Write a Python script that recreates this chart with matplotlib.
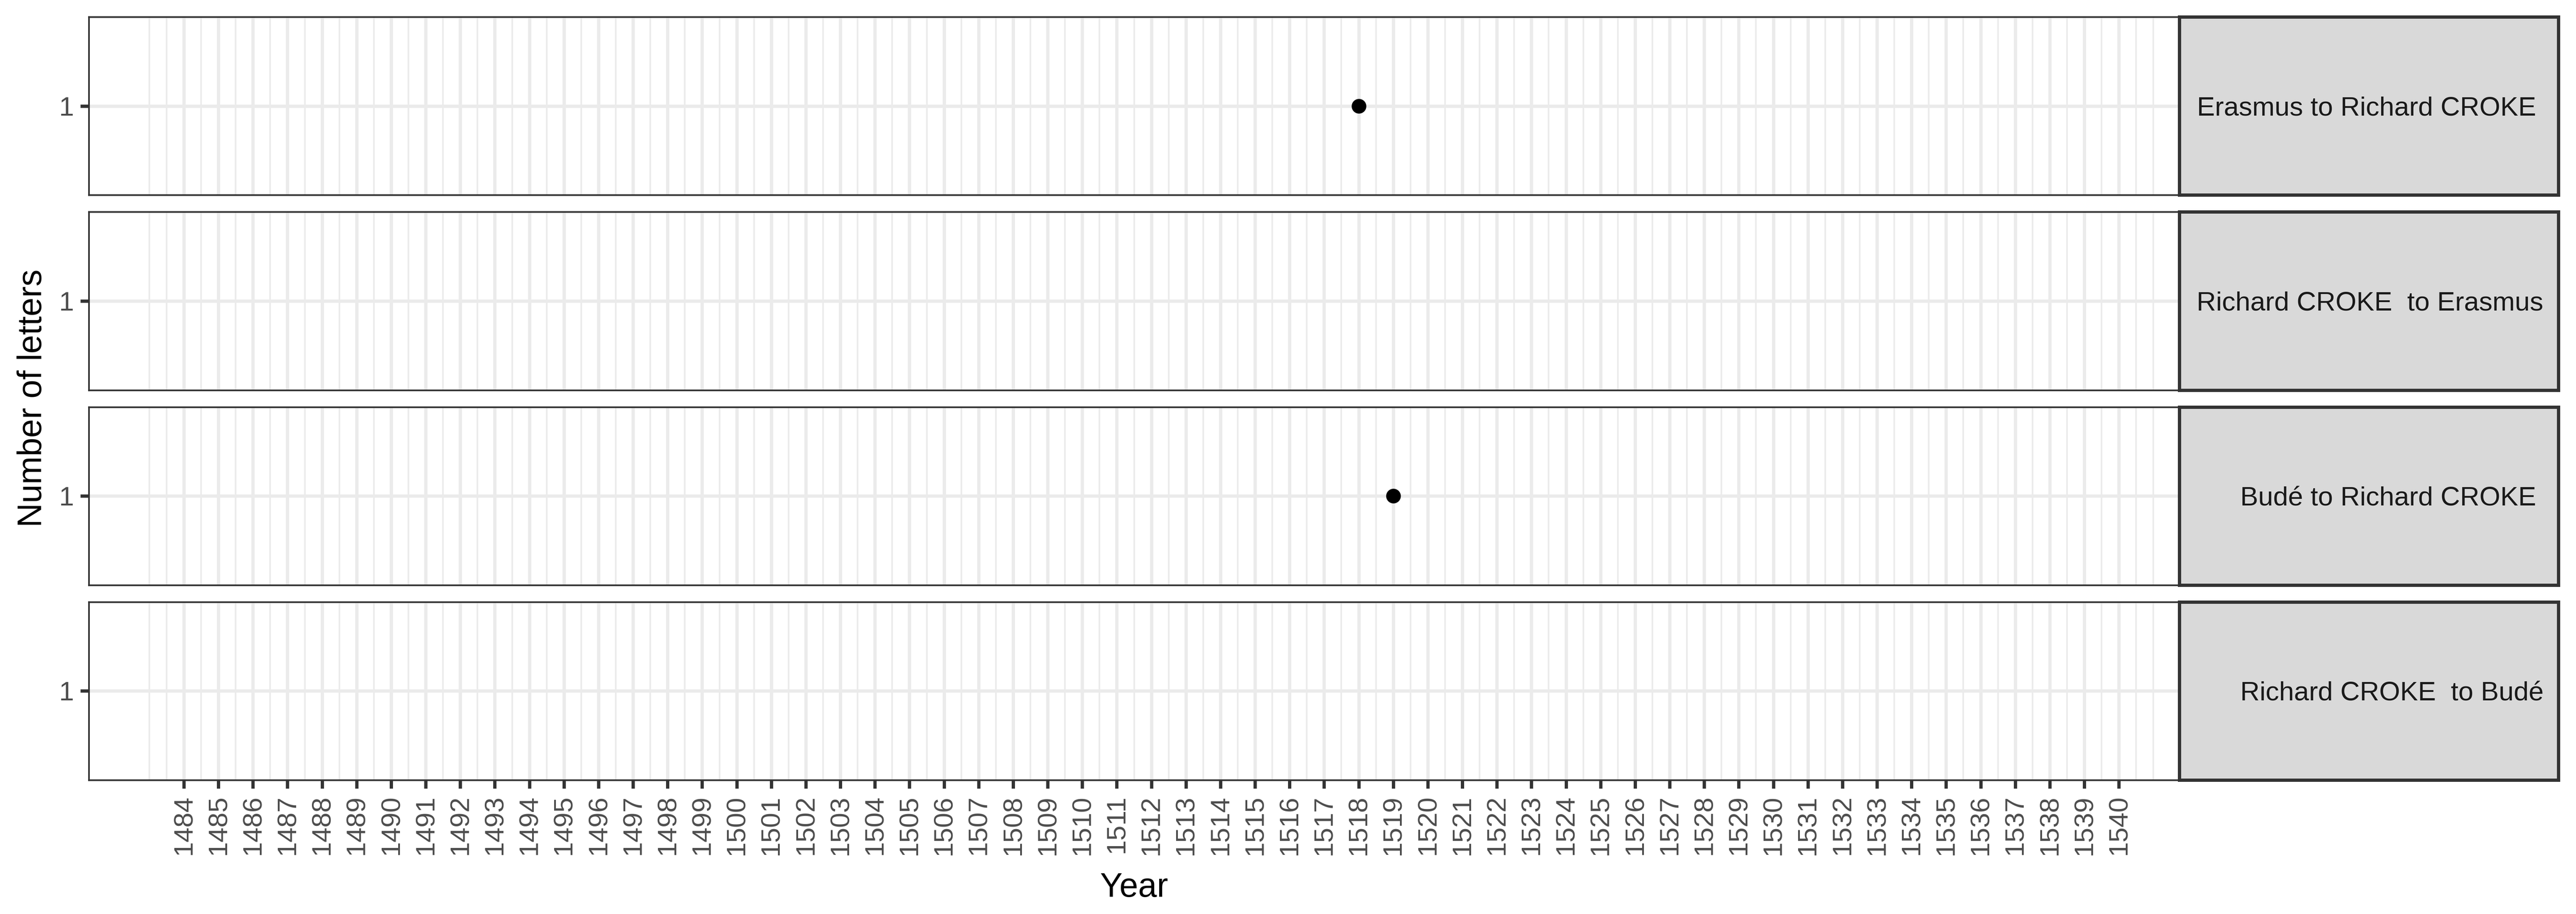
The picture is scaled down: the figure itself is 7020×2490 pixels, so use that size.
import matplotlib

matplotlib.use("Agg")
import matplotlib.pyplot as plt
import numpy as np

plt.rcParams["font.family"] = ["Liberation Sans", "DejaVu Sans"]

# facet labels (one row per direction of correspondence)
facet_labels = [
    "Erasmus to Richard CROKE",
    "Richard CROKE  to Erasmus",
    "Budé to Richard CROKE",
    "Richard CROKE  to Budé",
]
# letters per year, one list per facet
facet_years = [[1518], [], [1519], []]
facet_counts = [[1], [], [1], []]

year_breaks = list(range(1484, 1541))
count_breaks = [1]
x_limits = (1481.25, 1541.75)
y_limits = (0.5, 1.5)

# ggplot theme_bw look
BORDER = "#333333"
GRID = "#EBEBEB"
STRIP_BG = "#D9D9D9"
TICK_TXT = "#4D4D4D"
STRIP_TXT = "#1A1A1A"

W, H = 7020, 2490
fig = plt.figure(figsize=(W / 600, H / 600), dpi=600)

# layout in pixels
panel_left, panel_right = 242, 5939
strip_right = 6972
top, gap, panel_h = 46, 46, 485.25
strip_text_left = [5987, 5986, 6105, 6105]
cap_half = 26  # half cap height of strip text, px


def fx(px):
    return px / W


def fy(py):
    return 1 - py / H


minor_x = [year_breaks[0] - 1, year_breaks[0] - 0.5]
minor_x += [y + 0.5 for y in year_breaks]
minor_x += [year_breaks[-1] + 1]

n = len(facet_labels)
for i, label in enumerate(facet_labels):
    y_top = top + i * (panel_h + gap)
    ax = fig.add_axes([fx(panel_left), fy(y_top + panel_h),
                       fx(panel_right - panel_left), panel_h / H])
    ax.set_xlim(*x_limits)
    ax.set_ylim(*y_limits)
    ax.set_xticks(year_breaks)
    ax.set_xticks(minor_x, minor=True)
    ax.set_yticks(count_breaks)
    ax.set_axisbelow(True)
    ax.grid(which="major", color=GRID, lw=1.07)
    ax.grid(which="minor", axis="x", color=GRID, lw=0.53)
    for sp in ax.spines.values():
        sp.set_color(BORDER)
        sp.set_linewidth(0.55)
    ax.tick_params(which="minor", length=0)
    ax.tick_params(which="major", length=2.75, width=1.07, color=BORDER,
                   labelsize=8.8, labelcolor=TICK_TXT, pad=2.2)
    if i == n - 1:
        ax.set_xticklabels([str(y) for y in year_breaks], rotation=90,
                           ha="center", va="top")
    else:
        ax.tick_params(axis="x", which="major", length=0, labelbottom=False)

    if facet_years[i]:
        ax.plot(facet_years[i], facet_counts[i], "o", color="black",
                ms=4.8, mec="none", zorder=3)

    # facet strip on the right
    sax = fig.add_axes([fx(panel_right), fy(y_top + panel_h),
                        fx(strip_right - panel_right), panel_h / H])
    sax.set_facecolor(STRIP_BG)
    sax.set_xticks([])
    sax.set_yticks([])
    for sp in sax.spines.values():
        sp.set_color(BORDER)
        sp.set_linewidth(1.07)
    fig.text(fx(strip_text_left[i]), fy(y_top + panel_h / 2 + cap_half), label,
             ha="left", va="baseline", fontsize=8.8, color=STRIP_TXT)

fig.text(fx(113), fy(1085), "Number of letters", rotation=90,
         rotation_mode="anchor", ha="center", va="baseline", fontsize=11,
         color="black")
fig.text(fx((panel_left + panel_right) / 2), fy(2443), "Year", ha="center",
         va="baseline", fontsize=11, color="black")

fig.savefig("out.png", dpi=600, facecolor="white")
